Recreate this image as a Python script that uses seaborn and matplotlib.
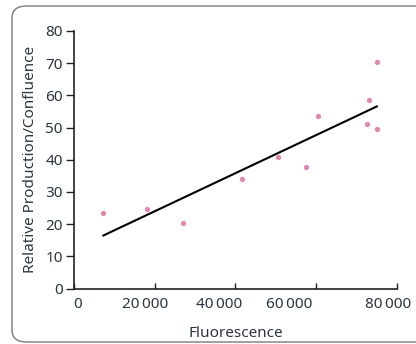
import matplotlib
matplotlib.use("Agg")
import matplotlib.pyplot as plt
import matplotlib.transforms as mtransforms
import seaborn as sns
import pandas as pd
from matplotlib.patches import FancyBboxPatch
from matplotlib.ticker import FuncFormatter

fluorescence = [7200, 18100, 27000, 41500, 50500, 57600, 60400, 72600, 73200, 75000, 75100]
production = [23.4, 24.6, 20.3, 34.0, 40.8, 37.9, 53.6, 51.0, 58.5, 49.6, 70.5]
x_ticks = [0, 20000, 40000, 60000, 80000]
y_ticks = [0, 10, 20, 30, 40, 50, 60, 70, 80]

df = pd.DataFrame({"Fluorescence": fluorescence, "Production": production})

sns.set_style("white")
plt.rcParams["font.family"] = ["Noto Sans", "DejaVu Sans"]
text_color = "#2b3640"

fig = plt.figure(figsize=(4.16, 3.44), dpi=100)
ax = fig.add_axes([0.178, 0.161, 0.776, 0.749])

sns.regplot(data=df, x="Fluorescence", y="Production", ax=ax, ci=None, truncate=True,
            scatter_kws=dict(color="#e8609a", marker="D", s=14, linewidths=0),
            line_kws=dict(color="black", lw=1.5))

ax.set_xlim(0, 80000)
ax.set_ylim(0, 80)
ax.set_xticks(x_ticks)
ax.set_yticks(y_ticks)
ax.xaxis.set_major_formatter(FuncFormatter(lambda v, p: "0" if v == 0 else f"{int(v):,}".replace(",", "\u2009")))
ax.set_xlabel("Fluorescence", fontsize=11, color=text_color, labelpad=10)
ax.set_ylabel("Relative Production/Confluence", fontsize=11, color=text_color, labelpad=5)
ax.tick_params(axis="both", labelsize=11, labelcolor=text_color, color="#222222", width=1)
ax.tick_params(axis="y", direction="out", length=6, left=True, pad=2)
ax.tick_params(axis="x", direction="in", length=4, bottom=True, pad=6)
for s in ["top", "right"]:
    ax.spines[s].set_visible(False)
for s in ["left", "bottom"]:
    ax.spines[s].set_color("#222222")
    ax.spines[s].set_linewidth(1.2)

# shift x tick labels as in the reference rendering
label_shifts_px = [4, -10, -16, -27, -9]
for lab, dx in zip(ax.get_xticklabels(), label_shifts_px):
    lab.set_transform(lab.get_transform() + mtransforms.ScaledTranslation(dx / 100, 0, fig.dpi_scale_trans))

W, H = 416, 344
box = FancyBboxPatch((12 / W, 2 / H), 430 / W, 336 / H,
                     boxstyle="round,pad=0,rounding_size=0.035",
                     transform=fig.transFigure, fill=False, edgecolor="#7a7a7a",
                     linewidth=1, clip_on=False)
fig.patches.append(box)

fig.savefig("out.png", dpi=100)
